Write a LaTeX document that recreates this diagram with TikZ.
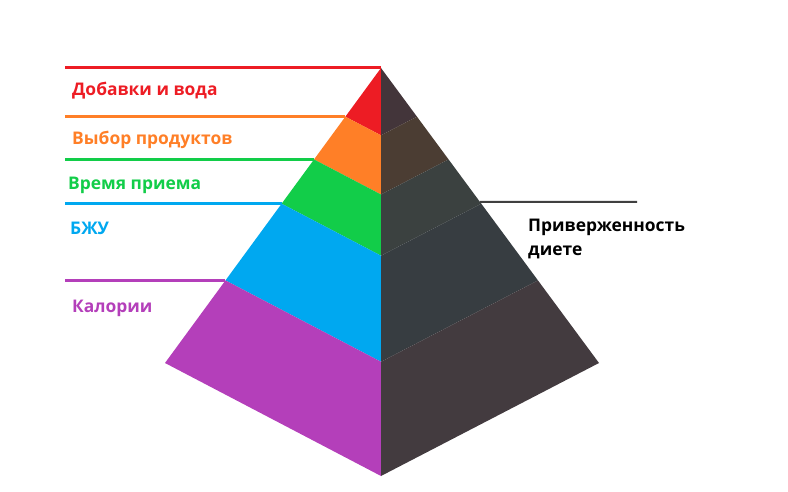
\documentclass[tikz,border=0pt]{standalone}
\usepackage{fontspec}
\setmainfont{Open Sans}
\usetikzlibrary{calc}

\definecolor{cRed}{HTML}{ED1C24}
\definecolor{cOrange}{HTML}{FF7F27}
\definecolor{cGreen}{HTML}{12CD49}
\definecolor{cBlue}{HTML}{00A8F0}
\definecolor{cPurple}{HTML}{B43FBA}
\definecolor{dRed}{HTML}{43353A}
\definecolor{dOrange}{HTML}{4B3D33}
\definecolor{dGreen}{HTML}{3B4140}
\definecolor{dBlue}{HTML}{373D41}
\definecolor{dPurple}{HTML}{433B3F}
\definecolor{cLine}{HTML}{404040}

\tikzset{
  levellabel/.style={anchor=base west, inner sep=0pt, font=\fontsize{17.4}{24}\selectfont\bfseries},
  levelline/.style={line width=3pt},
}

\begin{document}
\begin{tikzpicture}[x=1pt,y=-1pt]

    \useasboundingbox (0,0) rectangle (788,492);

    % Corners of the pyramid
    \coordinate (apex) at (381,68);
    \coordinate (left) at (165,363);
    \coordinate (bottom) at (381,476);
    \coordinate (right) at (599,363);

    % Draw the bands of both faces
    \foreach \a/\b/\lc/\rc in {0/0.165/cRed/dRed, 0.165/0.31/cOrange/dOrange,
        0.31/0.46/cGreen/dGreen, 0.46/0.72/cBlue/dBlue, 0.72/1/cPurple/dPurple} {
      \fill[\lc] ($(apex)!\a!(left)$) -- ($(apex)!\b!(left)$) -- ($(apex)!\b!(bottom)$) -- ($(apex)!\a!(bottom)$) -- cycle;
      \fill[\rc] ($(apex)!\a!(right)$) -- ($(apex)!\b!(right)$) -- ($(apex)!\b!(bottom)$) -- ($(apex)!\a!(bottom)$) -- cycle;
    }

    % Points on the left edge for the label lines
    \coordinate (eOrange) at ($(apex)!0.165!(left)$);
    \coordinate (eGreen) at ($(apex)!0.31!(left)$);
    \coordinate (eBlue) at ($(apex)!0.46!(left)$);
    \coordinate (ePurple) at ($(apex)!0.72!(left)$);

    % Draw the label lines
    \draw[levelline,cRed] (65,68) coordinate (sRed) -- (apex);
    \draw[levelline,cOrange] (sRed |- eOrange) coordinate (sOrange) -- (eOrange);
    \draw[levelline,cGreen] (sRed |- eGreen) coordinate (sGreen) -- (eGreen);
    \draw[levelline,cBlue] (sRed |- eBlue) coordinate (sBlue) -- (eBlue);
    \draw[levelline,cPurple] (sRed |- ePurple) coordinate (sPurple) -- (ePurple);

    % Labels
    \node[levellabel,text=cRed] (supplements) at (72,96) {Добавки и вода};
    \node[levellabel,text=cOrange] (foods) at (72,145) {Выбор продуктов};
    \node[levellabel,text=cGreen] (timing) at (68,190) {Время приема};
    \node[levellabel,text=cBlue] (macros) at (70,235) {БЖУ};
    \node[levellabel,text=cPurple] (calories) at (72,312) {Калории};

    % Adherence line and label
    \coordinate (adh) at ($(apex)!0.454!(right)$);
    \coordinate (adhEnd) at (637,202);
    \draw[line width=2pt,cLine] (adh) -- (adhEnd);
    \node[levellabel,text=black,align=left,anchor=north west] (adherence) at (528,219) {Приверженность\\диете};

\end{tikzpicture}
\end{document}
